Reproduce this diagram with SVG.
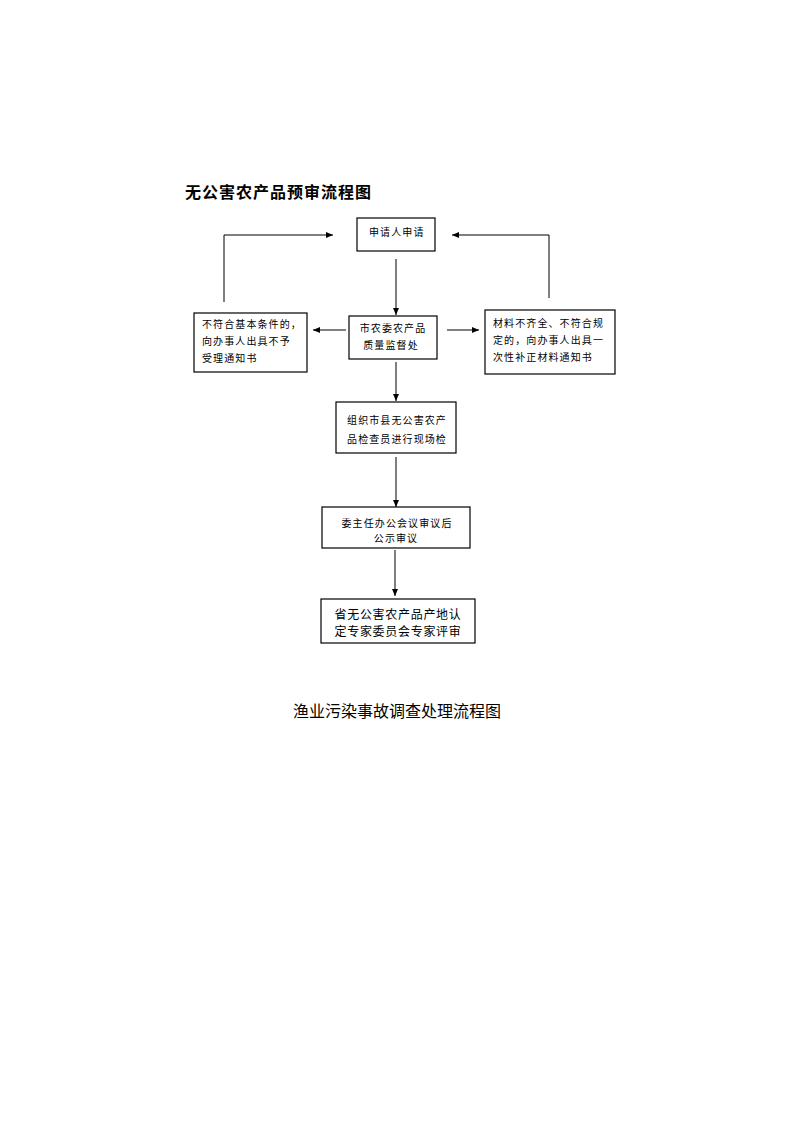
<svg xmlns="http://www.w3.org/2000/svg" width="792" height="1122" viewBox="0 0 792 1122">
<defs>
<marker id="ah" markerWidth="8" markerHeight="8" refX="7" refY="4" orient="auto" markerUnits="userSpaceOnUse">
<path d="M0,1 L7,4 L0,7 Z" fill="#000"/>
</marker>
<style>
.box{fill:#fff;stroke:#000;stroke-width:1.2}
.ln{fill:none;stroke:#000;stroke-width:1}
.t{font-family:"Noto Sans CJK SC","Liberation Sans",sans-serif;font-size:10px;letter-spacing:1.1px;fill:#000}
.c{text-anchor:middle}
.big{font-size:12px;letter-spacing:0.7px}
.title{font-family:"Noto Sans CJK SC","Liberation Sans",sans-serif;font-size:16px;font-weight:bold;letter-spacing:1px;fill:#000}
.sub{font-family:"Noto Sans CJK SC","Liberation Sans",sans-serif;font-size:16px;fill:#000}
</style>
</defs>
<rect width="792" height="1122" fill="#fff"/>
<text class="title" x="185" y="198">无公害农产品预审流程图</text>

<g id="connectors">
<polyline class="ln" points="224,302 224,235 333,235" marker-end="url(#ah)"/>
<polyline class="ln" points="549,298 549,235 452,235" marker-end="url(#ah)"/>
<line class="ln" x1="396" y1="259" x2="396" y2="315" marker-end="url(#ah)"/>
<line class="ln" x1="346" y1="330" x2="313" y2="330" marker-end="url(#ah)"/>
<line class="ln" x1="447" y1="330" x2="479" y2="330" marker-end="url(#ah)"/>
<line class="ln" x1="396" y1="362" x2="396" y2="401" marker-end="url(#ah)"/>
<line class="ln" x1="396" y1="457" x2="396" y2="507" marker-end="url(#ah)"/>
<line class="ln" x1="395" y1="550" x2="395" y2="596" marker-end="url(#ah)"/>
</g>

<g id="n1">
<rect class="box" x="357" y="218" width="78" height="33"/>
<text class="t" x="369" y="236">申请人申请</text>
</g>
<g id="n2">
<rect class="box" x="349" y="316" width="88" height="43"/>
<text class="t c" x="393" y="332">市农委农产品</text>
<text class="t c" x="391" y="349">质量监督处</text>
</g>
<g id="n3">
<rect class="box" x="194" y="313" width="113" height="59"/>
<text class="t" x="202" y="328">不符合基本条件的，</text>
<text class="t" x="202" y="345">向办事人出具不予</text>
<text class="t" x="202" y="362">受理通知书</text>
</g>
<g id="n4">
<rect class="box" x="485" y="310" width="130" height="64"/>
<text class="t" x="493" y="327">材料不齐全、不符合规</text>
<text class="t" x="493" y="344">定的，向办事人出具一</text>
<text class="t" x="493" y="361">次性补正材料通知书</text>
</g>
<g id="n5">
<rect class="box" x="336" y="402" width="120" height="51"/>
<text class="t c" x="397" y="424">组织市县无公害农产</text>
<text class="t c" x="397" y="443">品检查员进行现场检</text>
</g>
<g id="n6">
<rect class="box" x="322" y="507" width="148" height="41"/>
<text class="t c" x="397" y="527">委主任办公会议审议后</text>
<text class="t c" x="396" y="542">公示审议</text>
</g>
<g id="n7">
<rect class="box" x="321" y="599" width="154" height="44"/>
<text class="t big c" x="398" y="619">省无公害农产品产地认</text>
<text class="t big c" x="398" y="636">定专家委员会专家评审</text>
</g>

<text class="sub" x="293" y="717">渔业污染事故调查处理流程图</text>
</svg>
